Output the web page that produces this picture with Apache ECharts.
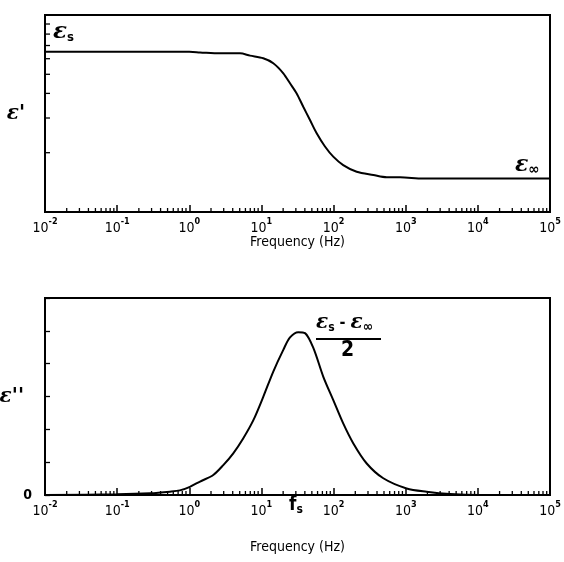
<!DOCTYPE html>
<html><head><meta charset="utf-8">
<script src="https://cdn.jsdelivr.net/npm/echarts@6/dist/echarts.min.js"></script>
<style>html,body{margin:0;padding:0;background:#fff}#c{width:564px;height:562px}</style>
</head><body><div id="c"></div>
<script>
// ---- data ----
const decadeExponents = [-2, -1, 0, 1, 2, 3, 4, 5];
const minorMultipliers = [2, 3, 4, 5, 6, 7, 8, 9];
const epsRealFreq = [0.01, 1, 1.41, 2.67, 5.05, 6.95, 10.6, 14.6, 20.1, 24.9, 30.8, 38, 47.1, 58.3, 76, 99, 136, 209, 356, 546, 834, 1740, 100000];
const epsRealVals = [6.51, 6.5, 6.46, 6.39, 6.39, 6.22, 6.03, 5.69, 5.06, 4.50, 4.00, 3.42, 2.93, 2.51, 2.15, 1.91, 1.73, 1.60, 1.54, 1.50, 1.50, 1.48, 1.48];
const epsImagFreq = [0.01, 0.1, 0.285, 0.54, 0.74, 1.02, 1.41, 2.15, 2.96, 4.07, 5.61, 7.73, 10.6, 14.6, 20.1, 24.9, 32.4, 40.2, 52.4, 72.1, 99.1, 136, 188, 288, 489, 1030, 1950, 4110, 10700, 100000];
const epsImagVals = [0, 0.02, 0.05, 0.1, 0.14, 0.25, 0.41, 0.61, 0.91, 1.27, 1.73, 2.28, 2.99, 3.76, 4.42, 4.80, 4.96, 4.93, 4.48, 3.60, 2.89, 2.18, 1.57, 0.96, 0.51, 0.20, 0.10, 0.03, 0, 0];
const topYMinorTicks = [2, 3, 4, 5, 6, 7, 8, 9];
const xMin = 0.01, xMax = 100000;

const FONT = "'DejaVu Sans Condensed', 'Liberation Sans', sans-serif";
const EPS_FONT = "'DejaVu Serif', serif";

const xMinorTicks = [];
decadeExponents.slice(0, -1).forEach(e => minorMultipliers.forEach(m => xMinorTicks.push(m * Math.pow(10, e))));

function zip(a, b) { return a.map((v, i) => [v, b[i]]); }

function xTickSeries(ax, baseY, len) {
  return {
    type: 'custom', xAxisIndex: ax, yAxisIndex: ax, silent: true, clip: false, z: 5,
    data: xMinorTicks.map(f => [f, baseY]),
    renderItem: (params, api) => {
      const p = api.coord([api.value(0), api.value(1)]);
      return { type: 'line', shape: { x1: p[0], y1: p[1], x2: p[0], y2: p[1] - len }, style: { stroke: '#000', lineWidth: 1.3 } };
    }
  };
}
function yTickSeries(ax, vals, len) {
  return {
    type: 'custom', xAxisIndex: ax, yAxisIndex: ax, silent: true, clip: false, z: 5,
    data: vals.map(v => [xMin, v]),
    renderItem: (params, api) => {
      const p = api.coord([api.value(0), api.value(1)]);
      return { type: 'line', shape: { x1: p[0], y1: p[1], x2: p[0] + len, y2: p[1] }, style: { stroke: '#000', lineWidth: 1.3 } };
    }
  };
}

const xLabelRich = {
  b: { fontSize: 14, fontFamily: FONT, color: '#000', lineHeight: 18, verticalAlign: 'bottom' },
  s: { fontSize: 9, fontFamily: FONT, color: '#000', fontWeight: 'bold', lineHeight: 18, verticalAlign: 'top' }
};
function xAxisCfg(gi, nameGap) {
  return {
    type: 'log', logBase: 10, gridIndex: gi, min: xMin, max: xMax, splitNumber: 7,
    name: 'Frequency (Hz)', nameLocation: 'middle', nameGap: nameGap, nameMoveOverlap: false,
    nameTextStyle: { fontSize: 14, fontFamily: FONT, color: '#000' },
    axisLine: { lineStyle: { color: '#000', width: 2 } },
    axisTick: { inside: true, length: 7, lineStyle: { color: '#000', width: 1.5 } },
    minorTick: { show: false },
    splitLine: { show: false },
    axisLabel: {
      margin: 5, color: '#000',
      formatter: v => '{b|10}{s|' + Math.round(Math.log10(v)) + '}',
      rich: xLabelRich
    }
  };
}

const chart = echarts.init(document.getElementById('c'), null, { renderer: 'canvas' });
chart.setOption({
  backgroundColor: '#fff',
  animation: false,
  grid: [
    { left: 45, right: 14, top: 15, height: 197, show: true, borderColor: '#000', borderWidth: 2, containLabel: false, outerBoundsMode: 'none' },
    { left: 45, right: 14, top: 298, height: 197, show: true, borderColor: '#000', borderWidth: 2, containLabel: false, outerBoundsMode: 'none' }
  ],
  xAxis: [xAxisCfg(0, 23), xAxisCfg(1, 45)],
  yAxis: [
    {
      type: 'log', logBase: 10, gridIndex: 0, min: 1, max: 10,
      name: "ε'", nameLocation: 'middle', nameRotate: 0, nameGap: 20, nameMoveOverlap: false,
      nameTextStyle: { fontSize: 20, fontFamily: EPS_FONT, fontStyle: 'italic', fontWeight: 'bold', color: '#000' },
      axisLine: { lineStyle: { color: '#000', width: 2 } },
      axisTick: { show: false }, axisLabel: { show: false }, splitLine: { show: false }
    },
    {
      type: 'value', gridIndex: 1, min: 0, max: 6, interval: 1,
      name: "ε''", nameLocation: 'middle', nameRotate: 0, nameGap: 21, nameMoveOverlap: false,
      nameTextStyle: { fontSize: 20, fontFamily: EPS_FONT, fontStyle: 'italic', fontWeight: 'bold', color: '#000' },
      axisLine: { lineStyle: { color: '#000', width: 2 } },
      axisTick: { inside: true, length: 5, lineStyle: { color: '#000', width: 1.3 } },
      axisLabel: { margin: 13, fontSize: 14, fontFamily: FONT, fontWeight: 'bold', color: '#000', formatter: v => v === 0 ? '0' : '' },
      splitLine: { show: false }
    }
  ],
  series: [
    { type: 'line', xAxisIndex: 0, yAxisIndex: 0, data: zip(epsRealFreq, epsRealVals), showSymbol: false, smooth: 0.3,
      lineStyle: { color: '#000', width: 2 }, z: 3 },
    { type: 'line', xAxisIndex: 1, yAxisIndex: 1, data: zip(epsImagFreq, epsImagVals), showSymbol: false, smooth: 0.3,
      lineStyle: { color: '#000', width: 2 }, z: 3 },
    xTickSeries(0, 1, 4),
    xTickSeries(1, 0, 4),
    yTickSeries(0, topYMinorTicks, 5)
  ],
  graphic: [
    { type: 'text', left: 53, top: 21, style: { rich: {
        e: { fontSize: 23, fontFamily: EPS_FONT, fontStyle: 'italic', fontWeight: 'bold', fill: '#000' },
        s: { fontSize: 13, fontFamily: FONT, fontWeight: 'bold', fill: '#000', padding: [10, 0, 0, 0] } },
        text: '{e|ε}{s|s}' } },
    { type: 'text', left: 515, top: 154, style: { rich: {
        e: { fontSize: 22, fontFamily: EPS_FONT, fontStyle: 'italic', fontWeight: 'bold', fill: '#000' },
        s: { fontSize: 15, fontFamily: FONT, fontWeight: 'bold', fill: '#000', padding: [10, 0, 0, 0] } },
        text: '{e|ε}{s|∞}' } },
    { type: 'text', left: 316, top: 313, style: { rich: {
        e: { fontSize: 20, fontFamily: EPS_FONT, fontStyle: 'italic', fontWeight: 'bold', fill: '#000' },
        d: { fontSize: 16, fontFamily: FONT, fontWeight: 'bold', fill: '#000' },
        s: { fontSize: 12, fontFamily: FONT, fontWeight: 'bold', fill: '#000', padding: [9, 0, 0, 0] },
        i: { fontSize: 14, fontFamily: FONT, fontWeight: 'bold', fill: '#000', padding: [9, 0, 0, 0] } },
        text: '{e|ε}{s|s}{d| - }{e|ε}{i|∞}' } },
    { type: 'line', shape: { x1: 316, y1: 339, x2: 381, y2: 339 }, style: { stroke: '#000', lineWidth: 2 } },
    { type: 'text', left: 341, top: 340, style: { text: '2', fontSize: 21, fontFamily: FONT, fontWeight: 'bold', fill: '#000' } },
    { type: 'text', left: 289, top: 496, style: { rich: {
        f: { fontSize: 19, fontFamily: FONT, fontWeight: 'bold', fill: '#000' },
        s: { fontSize: 12, fontFamily: FONT, fontWeight: 'bold', fill: '#000', padding: [8, 0, 0, 0] } },
        text: '{f|f}{s|s}' } }
  ]
});
</script>
</body></html>
